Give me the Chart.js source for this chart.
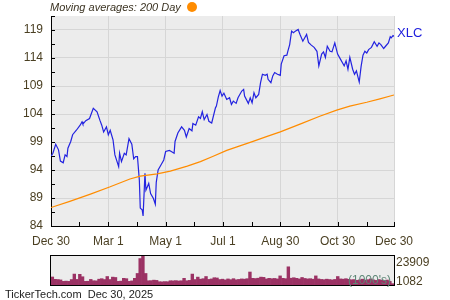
<!DOCTYPE html>
<html>
<head>
<meta charset="utf-8">
<script src="https://cdn.jsdelivr.net/npm/chart.js@4.4.1/dist/chart.umd.min.js"></script>
<style>
  body { margin: 0; width: 450px; height: 300px; background: #fff; position: relative; overflow: hidden;
         font-family: "Liberation Sans", Arial, sans-serif; }
  .abs { position: absolute; white-space: nowrap; }
  #mainWrap { position: absolute; left: 0; top: 0; width: 450px; height: 250px; }
  #volWrap { position: absolute; left: 0; top: 250px; width: 450px; height: 40px; }
</style>
</head>
<body>
<div id="mainWrap"><canvas id="priceChart" width="450" height="250"></canvas></div>
<div id="volWrap"><canvas id="volumeChart" width="450" height="40"></canvas></div>
<div class="abs" style="left:50px;top:1px;font-style:italic;font-size:11px;color:#3b3322;">Moving averages: 200 Day</div>
<div class="abs" style="left:187px;top:2px;width:10px;height:10px;border-radius:50%;background:#ff8c00;"></div>
<div class="abs" style="left:397px;top:25px;font-size:13px;color:#1c1cdc;">XLC</div>
<div class="abs" id="volMax" style="left:396px;top:255px;font-size:12px;color:#4a3f22;"></div>
<div class="abs" id="volMin" style="left:396px;top:274px;font-size:12px;color:#4a3f22;"></div>
<div class="abs" style="left:348px;top:273px;font-size:12px;color:#5d8676;">(1000's)</div>
<div class="abs" style="left:5px;top:288px;font-size:11px;color:#222;">TickerTech.com&nbsp;&nbsp;Dec 30, 2025</div>
<script>
// Giá đóng cửa XLC (ngày tính từ Dec 30)
const priceDays = [
  0, 2, 5, 8, 10, 13, 15, 17, 18, 21,
  23, 27, 31, 33, 34, 37, 41, 45, 49, 52,
  54, 56, 59, 61, 63, 66, 68, 72, 73, 75,
  78, 80, 83, 86, 88, 90, 92, 94, 95, 97,
  98, 100, 101, 104, 106, 109, 111, 112, 114, 117,
  120, 122, 126, 128, 131, 132, 135, 139, 142, 144,
  147, 150, 151, 154, 157, 159, 161, 163, 166, 168,
  171, 175, 176, 178, 180, 182, 184, 187, 190, 192,
  194, 197, 199, 203, 205, 206, 210, 212, 214, 216,
  218, 221, 223, 225, 228, 230, 231, 234, 236, 238,
  241, 244, 245, 248, 251, 252, 254, 256, 258, 260,
  263, 265, 268, 272, 274, 277, 280, 283, 285, 288,
  290, 292, 294, 297, 299, 302, 305, 308, 310, 312,
  314, 316, 318, 321, 323, 325, 328, 330, 332, 334,
  336, 338, 341, 344, 347, 349, 351, 354, 356, 359,
  361, 362, 364, 365
];
const priceValues = [
  96.4, 97.0, 98.6, 97.6, 95.6, 95.3, 96.7, 96.4, 97.9, 99.1,
  100.3, 101.1, 102.0, 102.6, 102.2, 102.8, 103.2, 105.0, 104.4, 102.9,
  102.0, 100.8, 101.7, 100.3, 101.1, 99.4, 96.7, 94.6, 97.0, 95.5,
  97.0, 96.7, 99.6, 98.6, 96.0, 96.4, 96.4, 92.2, 87.2, 86.9,
  85.8, 93.4, 90.4, 91.6, 89.8, 88.9, 87.9, 91.8, 94.0, 94.9,
  95.8, 97.3, 97.5, 97.3, 97.0, 99.1, 100.6, 101.7, 101.1, 99.9,
  101.4, 101.0, 102.3, 102.0, 103.5, 103.2, 104.4, 103.0, 103.9, 102.7,
  102.4, 105.1, 105.4, 107.0, 108.2, 107.2, 107.7, 106.6, 106.9, 105.7,
  106.3, 105.9, 106.9, 108.1, 108.4, 107.2, 105.9, 106.9, 106.0, 107.8,
  106.9, 107.5, 109.6, 111.1, 110.9, 111.1, 110.2, 109.6, 110.8, 111.4,
  111.1, 110.9, 112.9, 114.4, 114.5, 115.2, 116.4, 118.8, 118.5, 118.8,
  119.1, 118.2, 117.0, 118.2, 116.8, 116.3, 115.9, 115.2, 112.6, 114.7,
  115.1, 114.1, 116.1, 115.2, 115.1, 116.7, 114.7, 113.8, 113.2, 112.6,
  113.5, 112.0, 114.1, 112.0, 111.1, 111.7, 109.7, 112.5, 114.5, 115.2,
  114.9, 115.5, 115.9, 116.9, 116.1, 116.7, 116.4, 115.7, 116.1, 116.7,
  117.8, 117.6, 118.0, 117.9
];

// Đường trung bình 200 ngày
const maDays = [0, 20, 42, 63, 84, 95, 113, 127, 145, 159, 172, 187, 201, 215, 230, 244, 265, 286, 304, 318, 336, 350, 365];
const maValues = [87.3, 88.4, 89.7, 91.0, 92.4, 92.9, 93.3, 93.8, 94.7, 95.5, 96.4, 97.5, 98.3, 99.1, 100.0, 100.8, 102.2, 103.6, 104.7, 105.4, 106.1, 106.7, 107.4];

// Khối lượng (nghìn)
const volumes = [
  6600, 4700, 4500, 4200, 3000, 3200, 3000, 4500, 9000, 4600,
  8800, 6800, 3000, 3100, 4600, 3500, 3400, 4800, 5200, 4500,
  7000, 4500, 6500, 6200, 3000, 3200, 5500, 5200, 3000, 3400,
  5500, 9500, 21800, 23909, 9500, 3500, 3600, 4000, 3800, 2700,
  2600, 2800, 2700, 3500, 3400, 3600, 3300, 3500, 5500, 3500,
  3800, 9000, 4500, 6500, 4800, 5200, 7000, 4600, 5000, 6000,
  5800, 4500, 4800, 4200, 5000, 4400, 5200, 4300, 4600, 5000,
  4800, 5200, 10700, 5500, 5300, 5600, 6500, 6300, 5000, 5500,
  5200, 5400, 5000, 7500, 5500, 5200, 15000, 5600, 6000, 5500,
  5000, 6200, 5400, 5000, 5200, 4800, 7500, 5000, 4600, 4400,
  4800, 4500, 4200, 4600, 7000, 5000, 4800, 5200, 4700, 4300,
  4500, 3900, 4200, 4800, 4000, 4400, 5000, 4200, 3800, 4500,
  4000, 3600, 4100, 3000, 1082
];

const xTickDays = [0, 61, 122, 183, 244, 305, 365];
const xTickLabels = ['Dec 30', 'Mar 1', 'May 1', 'Jul 1', 'Aug 30', 'Oct 30', 'Dec 30'];
const xMinorDays = [30, 91, 152, 214, 275, 336];
const yTickValues = [84, 89, 94, 99, 104, 109, 114, 119];
const volumeTickLabels = ['23909', '1082'];

const labelColor = '#4a3f22';
const gridColor = '#d6d6d6';
const plotBg = '#ececec';
const fontSpec = { family: '"Liberation Sans", Arial, sans-serif', size: 12 };

// tick phụ của trục y (nửa bước)
const yAllTicks = [];
yTickValues.forEach(v => { yAllTicks.push(v); yAllTicks.push(v + 2.5); });
const xAllTicks = xTickDays.concat(xMinorDays).sort((a, b) => a - b);

// nền xám + vạch chia hướng vào trong
const plotFrame = {
    id: 'plotFrame',
    beforeDraw(chart) {
        const a = chart.chartArea, c = chart.ctx;
        c.save();
        c.fillStyle = plotBg;
        c.fillRect(a.left, a.top, a.right - a.left, a.bottom - a.top);
        c.restore();
    },
    afterDraw(chart, args, opts) {
        if (!opts.ticks) return;
        const a = chart.chartArea, c = chart.ctx;
        const xs = chart.scales.x, ys = chart.scales.y;
        c.save();
        c.strokeStyle = '#000';
        c.lineWidth = 1;
        c.beginPath();
        yAllTicks.forEach(v => {
            const y = Math.round(ys.getPixelForValue(v)) + 0.5;
            c.moveTo(a.left, y);
            c.lineTo(a.left + 4, y);
        });
        xAllTicks.forEach(d => {
            const x = Math.round(xs.getPixelForValue(d)) + 0.5;
            c.moveTo(x, a.bottom);
            c.lineTo(x, a.bottom - 4);
        });
        c.stroke();
        c.restore();
    }
};

const priceCtx = document.getElementById('priceChart').getContext('2d');
new Chart(priceCtx, {
    type: 'line',
    data: {
        datasets: [
            {
                label: 'XLC',
                data: priceDays.map((d, i) => ({ x: d, y: priceValues[i] })),
                borderColor: '#2323e0',
                borderWidth: 1.2,
                pointRadius: 0,
                tension: 0,
                order: 1,
            },
            {
                label: '200 Day',
                data: maDays.map((d, i) => ({ x: d, y: maValues[i] })),
                borderColor: '#ff8c00',
                borderWidth: 1.2,
                pointRadius: 0,
                tension: 0,
                order: 0,
            },
        ],
    },
    options: {
        responsive: false,
        animation: false,
        layout: { padding: { top: 16, right: 56, left: 0, bottom: 0 } },
        plugins: {
            legend: { display: false },
            tooltip: { enabled: false },
            plotFrame: { ticks: true },
        },
        scales: {
            x: {
                type: 'linear',
                min: 0,
                max: 365,
                afterBuildTicks: s => { s.ticks = xAllTicks.map(v => ({ value: v })); },
                afterFit: s => { s.height = 24; },
                ticks: {
                    autoSkip: false,
                    maxRotation: 0,
                    padding: 8,
                    color: labelColor,
                    font: fontSpec,
                    callback: v => {
                        const i = xTickDays.indexOf(v);
                        return i >= 0 ? xTickLabels[i] : '';
                    },
                },
                grid: {
                    drawTicks: false,
                    color: ctx => (xTickDays.includes(ctx.tick.value) && ctx.tick.value !== 0 ? gridColor : 'transparent'),
                },
                border: { display: true, color: '#000', width: 1 },
            },
            y: {
                min: 84,
                max: 121.5,
                afterBuildTicks: s => { s.ticks = yAllTicks.map(v => ({ value: v })); },
                afterFit: s => { s.width = 51; },
                ticks: {
                    autoSkip: false,
                    padding: 8,
                    color: labelColor,
                    font: fontSpec,
                    callback: v => (yTickValues.includes(v) ? String(v) : ''),
                },
                grid: {
                    drawTicks: false,
                    color: ctx => (yTickValues.includes(ctx.tick.value) && ctx.tick.value !== 84 ? gridColor : 'transparent'),
                },
                border: { display: true, color: '#000', width: 1 },
            },
        },
    },
    plugins: [plotFrame],
});

// biểu đồ khối lượng
const volBorder = {
    id: 'volBorder',
    afterDraw(chart) {
        const a = chart.chartArea, c = chart.ctx;
        c.save();
        c.strokeStyle = '#000';
        c.lineWidth = 1;
        c.strokeRect(a.left - 0.5, a.top - 0.5, a.right - a.left + 1, a.bottom - a.top + 1);
        c.restore();
    }
};

const volCtx = document.getElementById('volumeChart').getContext('2d');
new Chart(volCtx, {
    type: 'bar',
    data: {
        labels: volumes.map((v, i) => i),
        datasets: [{
            data: volumes,
            backgroundColor: '#9b3264',
            borderWidth: 0,
            barPercentage: 1,
            categoryPercentage: 1,
        }],
    },
    options: {
        responsive: false,
        animation: false,
        layout: { padding: { top: 6, right: 56, left: 51, bottom: 5 } },
        plugins: { legend: { display: false }, tooltip: { enabled: false } },
        scales: {
            x: { display: false },
            y: { display: false, min: 0, max: Math.max(...volumes) },
        },
    },
    plugins: [plotFrame, volBorder],
});

document.getElementById('volMax').textContent = volumeTickLabels[0];
document.getElementById('volMin').textContent = volumeTickLabels[1];
</script>
</body>
</html>
